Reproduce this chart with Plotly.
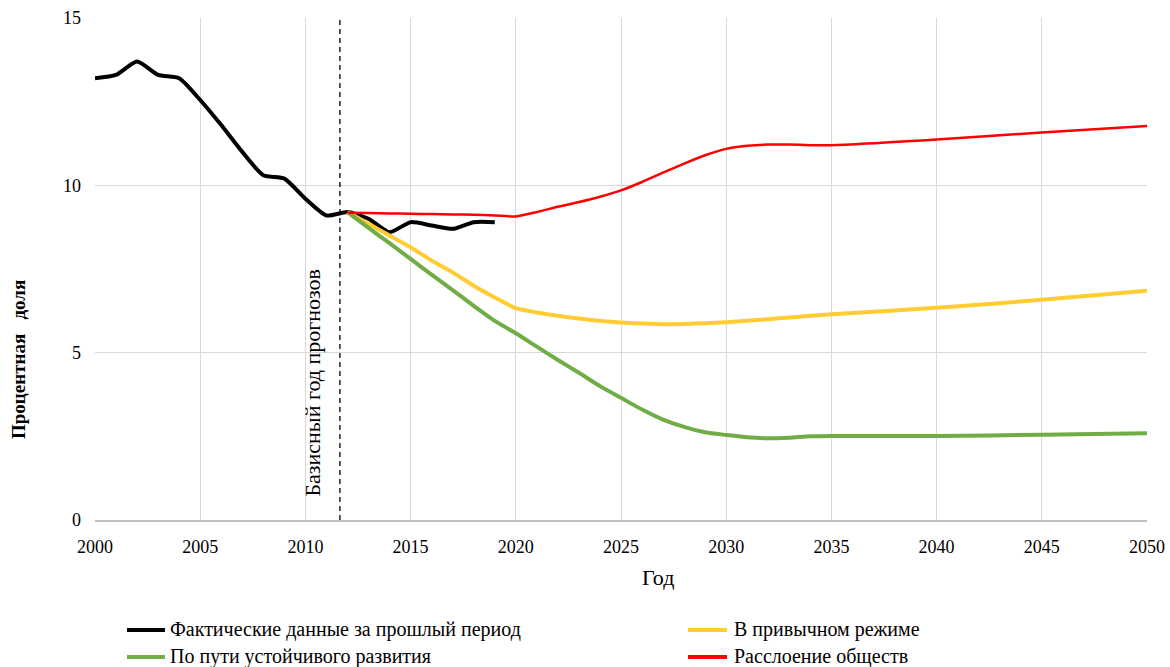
import plotly.graph_objects as go

# ---- data ----
hist_years = list(range(2000, 2020))
hist_vals = [13.2, 13.3, 13.7, 13.3, 13.2, 12.55, 11.8, 11.0, 10.3, 10.2,
             9.6, 9.1, 9.2, 9.0, 8.6, 8.9, 8.8, 8.7, 8.9, 8.9]

proj_years = list(range(2012, 2036)) + [2040, 2045, 2050]
bau_vals = [9.2, 8.85, 8.5, 8.15, 7.75, 7.4, 7.0, 6.65, 6.33, 6.2,
            6.1, 6.02, 5.95, 5.9, 5.87, 5.85, 5.86, 5.88, 5.91, 5.95,
            6.0, 6.05, 6.1, 6.15, 6.34, 6.58, 6.85]
sust_vals = [9.2, 8.73, 8.27, 7.8, 7.33, 6.87, 6.4, 5.95, 5.58, 5.18,
             4.78, 4.4, 4.0, 3.65, 3.3, 3.0, 2.78, 2.62, 2.54, 2.47,
             2.44, 2.46, 2.5, 2.51, 2.51, 2.55, 2.59]
frag_vals = [9.18, 9.17, 9.16, 9.15, 9.14, 9.13, 9.12, 9.1, 9.07, 9.2,
             9.36, 9.5, 9.66, 9.85, 10.1, 10.38, 10.65, 10.9, 11.09, 11.18,
             11.22, 11.22, 11.2, 11.2, 11.37, 11.58, 11.77]

base_year = 2011.64
names = ["Фактические данные за прошлый период", "В привычном режиме",
         "По пути устойчивого развития", "Расслоение обществ"]
colors = ["#000000", "#FFCC33", "#70AD47", "#FF0000"]
widths = [4, 4, 4, 2.5]
x_ticks = list(range(2000, 2051, 5))
y_ticks = [0, 5, 10, 15]

FONT = "Liberation Serif, Times New Roman, serif"

fig = go.Figure()
series = [(hist_years, hist_vals), (proj_years, bau_vals),
          (proj_years, sust_vals), (proj_years, frag_vals)]
for (xs, ys), nm, c, w in zip(series, names, colors, widths):
    fig.add_trace(go.Scatter(x=xs, y=ys, mode="lines", name=nm, showlegend=False,
                             line=dict(color=c, width=w, shape="spline", smoothing=0.6)))

fig.add_shape(type="line", x0=base_year, x1=base_year, y0=0, y1=15, xref="x", yref="y",
              line=dict(color="#000000", width=1.3, dash="5px,4px"), layer="above")
fig.add_annotation(x=base_year, y=4.12, xref="x", yref="y", xshift=-27.5,
                   text="Базисный год прогнозов", textangle=-90, showarrow=False,
                   font=dict(family=FONT, size=22, color="#000000"))

# axis titles
fig.add_annotation(x=0.535, y=-0.1155, xref="paper", yref="paper", text="Год",
                   showarrow=False, xanchor="center", yanchor="middle",
                   font=dict(family=FONT, size=22, color="#000000"))
fig.add_annotation(x=-0.0732, y=0.3207, xref="paper", yref="paper",
                   text="<b>Процентная\u00a0\u00a0 доля</b>", textangle=-90,
                   showarrow=False, xanchor="center", yanchor="middle",
                   font=dict(family=FONT, size=19, color="#000000"))

# manual legend (2 columns x 2 rows)
leg_pos = [(0.0304, 0.0665, 0.0694, -0.2191), (0.5637, 0.6008, 0.6055, -0.2191),
           (0.0304, 0.0665, 0.0694, -0.2729), (0.5637, 0.6008, 0.6055, -0.2729)]
for (x0, x1, xt, yy), i in zip(leg_pos, range(4)):
    fig.add_shape(type="line", x0=x0, x1=x1, y0=yy, y1=yy, xref="paper", yref="paper",
                  line=dict(color=colors[i], width=4))
    fig.add_annotation(x=xt, y=yy, xref="paper", yref="paper", text=names[i],
                       showarrow=False, xanchor="left", yanchor="middle",
                       font=dict(family=FONT, size=20, color="#000000"))

fig.update_layout(
    width=1170, height=667,
    margin=dict(l=95, r=23, t=18, b=147, autoexpand=False),
    plot_bgcolor="white", paper_bgcolor="white",
    font=dict(family=FONT, size=18, color="#000000"),
    showlegend=False,
    xaxis=dict(range=[2000, 2050], tickvals=x_ticks, showgrid=True, gridcolor="#D9D9D9",
               gridwidth=1.3, showline=True, linecolor="#BFBFBF", linewidth=1.5,
               zeroline=False, ticks="", ticklabelstandoff=10,
               tickfont=dict(family=FONT, size=18)),
    yaxis=dict(range=[0, 15], tickvals=y_ticks, showgrid=True, gridcolor="#D9D9D9",
               gridwidth=1.3, showline=False, zeroline=False, ticks="", ticklabelstandoff=13,
               tickfont=dict(family=FONT, size=18)),
)

fig.write_html("out.html", config={"displayModeBar": False},
               post_script="document.body.style.margin='0';document.body.style.overflow='hidden';")
